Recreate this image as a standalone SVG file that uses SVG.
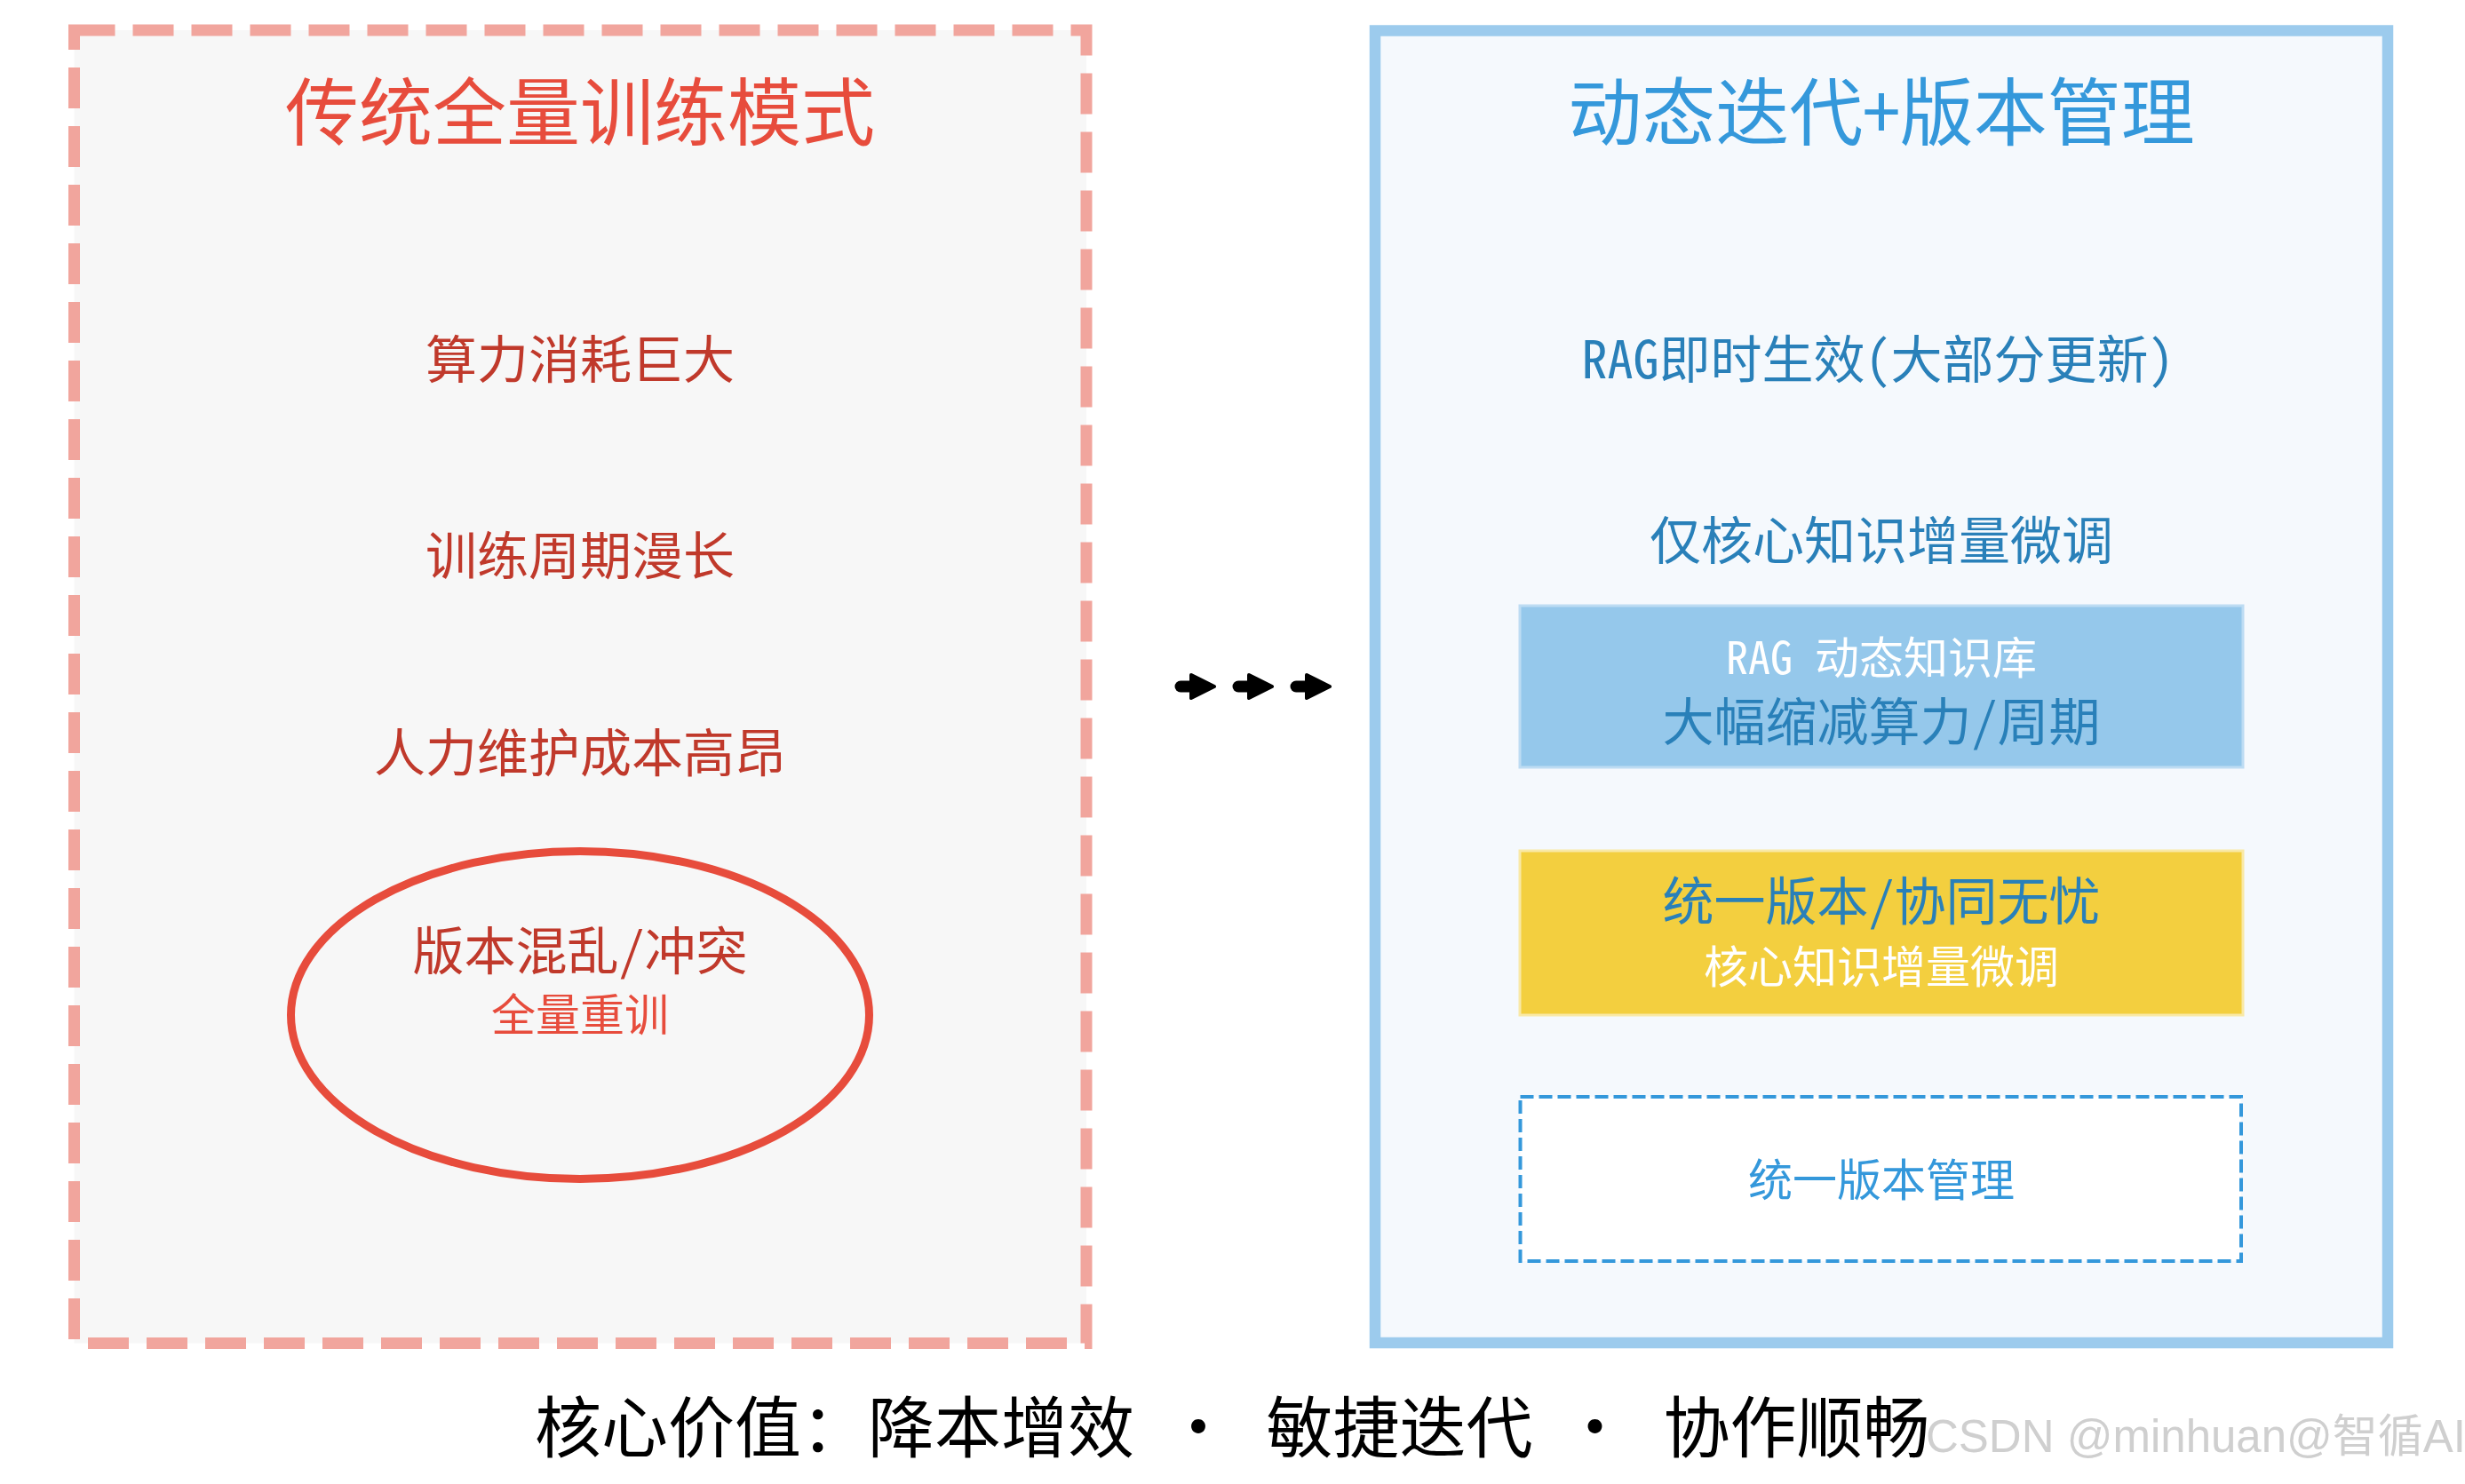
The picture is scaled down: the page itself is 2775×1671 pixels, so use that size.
<svg xmlns="http://www.w3.org/2000/svg" width="2775" height="1671" viewBox="0 0 2775 1671">
<style>
  text { font-family: 'Noto Sans Mono CJK SC', 'Noto Sans CJK SC', monospace; text-anchor: middle; }
  .title { font-size: 83px; }
  .main { font-size: 58px; }
  .sub { font-size: 50px; }
  .red { fill: #e74c3c; }
  .dred { fill: #c0392b; }
  .blue { fill: #3498db; }
  .dblue { fill: #2980b9; }
  .white { fill: #ffffff; }
  .bottom { font-size: 75px; fill: #000000; }
  .wm { font-family: 'Liberation Sans', 'Noto Sans CJK SC', sans-serif; font-size: 51px; fill: #cfcfcf; text-anchor: start; }
  .shaft { stroke: #000000; stroke-width: 13; stroke-linecap: round; fill: none; }
</style>
<defs>
  <marker id="ah" markerUnits="userSpaceOnUse" viewBox="-4 -18 36 36" markerWidth="36" markerHeight="36" refX="0" refY="0" orient="auto" overflow="visible">
    <path d="M0,-13 L26,0 L0,13 Z" fill="#000000" stroke="#000000" stroke-width="4" stroke-linejoin="round"/>
  </marker>
</defs>
<rect x="0" y="0" width="2775" height="1671" fill="#ffffff"/>

<g id="left-panel">
  <rect x="83.5" y="34" width="1139.5" height="1478.5" fill="#f7f7f7" stroke="#f1a59d" stroke-width="13" stroke-dasharray="46 20"/>
  <text class="title red" x="653" y="157">传统全量训练模式</text>
</g>
<g id="node-compute">
  <text class="main dred" x="653" y="426">算力消耗巨大</text>
</g>
<g id="node-cycle">
  <text class="main dred" x="653" y="647">训练周期漫长</text>
</g>
<g id="node-cost">
  <text class="main dred" x="653" y="868.5">人力维护成本高昂</text>
</g>
<g id="node-version-chaos">
  <ellipse cx="653" cy="1143" rx="325.5" ry="184.5" fill="none" stroke="#e74c3c" stroke-width="9"/>
  <text class="main dred" x="653" y="1091.5">版本混乱/冲突</text>
  <text class="sub red" x="653" y="1160.5">全量重训</text>
</g>

<g id="connectors">
  <line class="shaft" x1="1329" y1="773" x2="1341" y2="773" marker-end="url(#ah)"/>
  <line class="shaft" x1="1394" y1="773" x2="1406" y2="773" marker-end="url(#ah)"/>
  <line class="shaft" x1="1459" y1="773" x2="1471" y2="773" marker-end="url(#ah)"/>
</g>

<g id="right-panel">
  <rect x="1548" y="34.5" width="1140" height="1477.5" fill="#f5f9fd" stroke="#9ccbed" stroke-width="12.5"/>
  <text class="title blue" x="2118" y="157">动态迭代+版本管理</text>
</g>
<g id="node-rag-instant">
  <text class="main dblue" x="2114" y="426">RAG即时生效(大部分更新)</text>
</g>
<g id="node-core-finetune">
  <text class="main dblue" x="2118" y="629.5">仅核心知识增量微调</text>
</g>
<g id="node-rag-kb">
  <rect x="1711" y="682" width="814" height="182" fill="#95c8eb" stroke="#bddcf3" stroke-width="3"/>
  <text class="sub white" x="2118" y="759">RAG 动态知识库</text>
  <text class="main dblue" x="2118" y="833.5">大幅缩减算力/周期</text>
</g>
<g id="node-unified">
  <rect x="1711" y="958" width="814" height="185" fill="#f3cf3f" stroke="#f9e9a6" stroke-width="3"/>
  <text class="main dblue" x="2118" y="1036">统一版本/协同无忧</text>
  <text class="sub white" x="2118" y="1106.5">核心知识增量微调</text>
</g>
<g id="node-version-mgmt">
  <rect x="1711.5" y="1235" width="811.5" height="185" fill="#ffffff" stroke="#3498db" stroke-width="4" stroke-dasharray="15 6"/>
  <text class="sub blue" x="2118" y="1346.5">统一版本管理</text>
</g>

<g id="footer">
  <text class="bottom" y="1634.5"><tspan x="939.5">核心价值：降本增效</tspan><tspan x="1349">·</tspan><tspan x="1575.5">敏捷迭代</tspan><tspan x="1795.5">·</tspan><tspan x="2022.5">协作顺畅</tspan></text>
</g>
<g id="watermark">
  <text class="wm" x="2168" y="1635">CSDN @minhuan@智循AI</text>
</g>
</svg>
